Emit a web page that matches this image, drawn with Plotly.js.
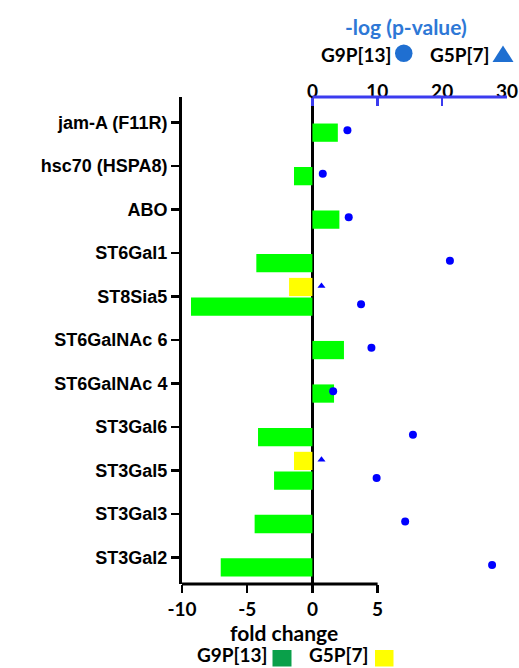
<!DOCTYPE html>
<html>
<head>
<meta charset="utf-8">
<script src="https://cdn.plot.ly/plotly-3.0.1.min.js"></script>
<style>html,body{margin:0;padding:0;background:#fff;}#chart{width:519px;height:668px;}</style>
</head>
<body>
<div id="chart"></div>
<script>
// ---- data ----
const genes = ["jam-A (F11R)", "hsc70 (HSPA8)", "ABO", "ST6Gal1", "ST8Sia5", "ST6GalNAc 6",
               "ST6GalNAc 4", "ST3Gal6", "ST3Gal5", "ST3Gal3", "ST3Gal2"];
const foldG9P13 = [1.95, -1.41, 2.07, -4.30, -9.31, 2.42, 1.66, -4.17, -2.94, -4.43, -7.03];
const foldG5P7  = [null, null, null, null, -1.79, null, null, null, -1.41, null, null];
const logpG9P13 = [5.4, 1.6, 5.6, 21.2, 7.5, 9.1, 3.2, 15.5, 9.9, 14.3, 27.7];
const logpG5P7  = [null, null, null, null, 1.4, null, null, null, 1.4, null, null];
const foldTicks = [-10, -5, 0, 5];
const logpTicks = [0, 10, 20, 30];

// ---- layout geometry ----
const L = 182, R = 12, T = 97, B = 84, W = 519, H = 668;
const pw = W - L - R, ph = H - T - B;
const px = v => (v - L) / pw;           // pixel x -> paper
const py = v => (H - B - v) / ph;       // pixel y -> paper
const yRange = [10.61, -0.59];
const blue = "#0000ff";
const axisBlue = "#3b3bef";
const legendBlue = "#1f6fd1";
const numFont = {family: "Lato", size: 19, color: "#000", weight: "bold"};
const lblFont = {family: "Lato", size: 19, color: "#000", weight: "bold"};

const traces = [
  {type: "bar", orientation: "h", name: "G9P[13]", y: genes, x: foldG9P13,
   xaxis: "x", yaxis: "y", width: 0.42, offset: 0.02,
   marker: {color: "#00ff00", line: {width: 0}}},
  {type: "bar", orientation: "h", name: "G5P[7]", y: genes, x: foldG5P7,
   xaxis: "x", yaxis: "y", width: 0.42, offset: -0.43,
   marker: {color: "#ffff00", line: {width: 0}}},
  {type: "scatter", mode: "markers", name: "G9P[13] -log p", y: genes, x: logpG9P13,
   xaxis: "x2", yaxis: "y2", marker: {symbol: "circle", size: 8, color: blue}},
  {type: "scatter", mode: "markers", name: "G5P[7] -log p", y: genes, x: logpG5P7,
   xaxis: "x2", yaxis: "y3", marker: {symbol: "triangle-up", size: 7, color: blue}}
];

const catAxis = {type: "category", categoryorder: "array", categoryarray: genes};

const layout = {
  width: W, height: H,
  margin: {l: L, r: R, t: T, b: B, pad: 0},
  paper_bgcolor: "#fff", plot_bgcolor: "rgba(0,0,0,0)",
  showlegend: false, barmode: "overlay",
  xaxis: {range: [-10, -10 + pw / 13.04], tickvals: foldTicks, ticktext: foldTicks.map(String),
          showgrid: false, showline: false, zeroline: true, zerolinecolor: "#000", zerolinewidth: 2.5,
          ticks: "outside", ticklen: 8, tickwidth: 2.5, tickcolor: "#000",
          tickfont: numFont, fixedrange: true},
  xaxis2: {overlaying: "x", side: "top", anchor: "y",
           range: [-130.4 / 6.487, 30], tickvals: logpTicks, ticktext: logpTicks.map(String),
           showgrid: false, showline: false, zeroline: false,
           ticks: "inside", ticklen: 9, tickwidth: 2.5, tickcolor: axisBlue,
           ticklabelstandoff: -6,
           tickfont: numFont, fixedrange: true},
  yaxis: Object.assign({}, catAxis, {range: yRange, showgrid: false, zeroline: false,
          showline: true, linecolor: "#000", linewidth: 3,
          ticks: "outside", ticklen: 8, tickwidth: 2.5, tickcolor: "#000",
          tickfont: {family: "Liberation Sans", size: 18, color: "#000", weight: "bold"}}),
  yaxis2: Object.assign({}, catAxis, {overlaying: "y", range: [yRange[0] - 0.175, yRange[1] - 0.175], visible: false}),
  yaxis3: Object.assign({}, catAxis, {overlaying: "y", range: [yRange[0] + 0.245, yRange[1] + 0.245], visible: false}),
  shapes: [
    // bottom axis line (fold change -10..5)
    {type: "line", xref: "x", yref: "paper", x0: -10, x1: 5, y0: 0, y1: 0,
     line: {color: "#000", width: 3}},
    // top axis line (-log p 0..30)
    {type: "line", xref: "x2", yref: "paper", x0: 0, x1: 30, y0: 1, y1: 1,
     line: {color: axisBlue, width: 3}},
    // top legend symbols
    {type: "circle", xref: "paper", yref: "paper", x0: px(395), x1: px(412.5), y0: py(62), y1: py(44.5),
     fillcolor: legendBlue, line: {width: 0}},
    {type: "path", xref: "paper", yref: "paper",
     path: `M ${px(492.5)},${py(62)} L ${px(513.5)},${py(62)} L ${px(503)},${py(45.5)} Z`,
     fillcolor: legendBlue, line: {width: 0}},
    // bottom legend squares
    {type: "rect", xref: "paper", yref: "paper", x0: px(272.5), x1: px(291.5), y0: py(666.5), y1: py(650),
     fillcolor: "#0aa04a", line: {width: 0}},
    {type: "rect", xref: "paper", yref: "paper", x0: px(375), x1: px(393.5), y0: py(666.5), y1: py(650),
     fillcolor: "#ffff00", line: {width: 0}}
  ],
  annotations: [
    {text: "-log (p-value)", xref: "paper", yref: "paper", x: px(406), y: py(27),
     xanchor: "center", yanchor: "middle", showarrow: false,
     font: {family: "Lato", size: 21, color: "#2e78d6", weight: "bold"}},
    {text: "G9P[13]", xref: "paper", yref: "paper", x: px(393.5), y: py(55),
     xanchor: "right", yanchor: "middle", showarrow: false, font: lblFont},
    {text: "G5P[7]", xref: "paper", yref: "paper", x: px(491.5), y: py(55),
     xanchor: "right", yanchor: "middle", showarrow: false, font: lblFont},
    {text: "fold change", xref: "paper", yref: "paper", x: px(284), y: py(632),
     xanchor: "center", yanchor: "middle", showarrow: false,
     font: {family: "Lato", size: 21, color: "#000", weight: "bold"}},
    {text: "G9P[13]", xref: "paper", yref: "paper", x: px(269.5), y: py(668),
     xanchor: "right", yanchor: "bottom", showarrow: false, font: lblFont},
    {text: "G5P[7]", xref: "paper", yref: "paper", x: px(371), y: py(668),
     xanchor: "right", yanchor: "bottom", showarrow: false, font: lblFont}
  ]
};

Plotly.newPlot("chart", traces, layout, {staticPlot: true, displayModeBar: false});
</script>
</body>
</html>
